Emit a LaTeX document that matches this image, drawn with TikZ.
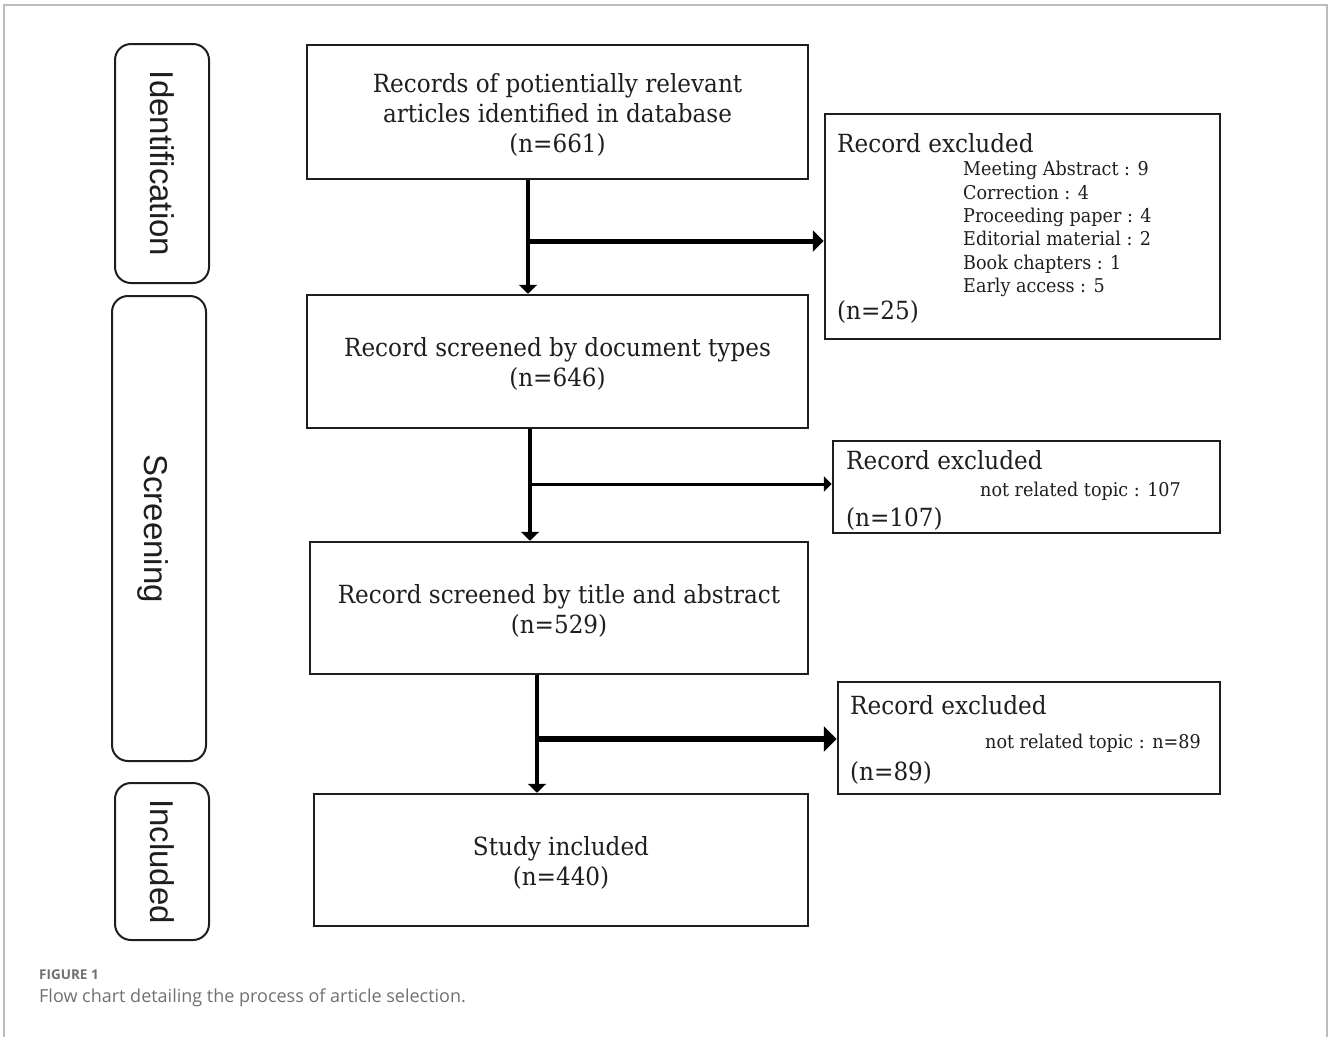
\documentclass[tikz,border=0pt]{standalone}
\usepackage{fontspec}
\setmainfont{DejaVu Serif}[FakeStretch=0.925]
\newfontfamily\sidefont{Liberation Sans}
\newfontfamily\capfont{Open Sans}
\usetikzlibrary{arrows.meta,calc}
\definecolor{ink}{HTML}{1E1E1E}
\definecolor{capgray}{HTML}{707070}
\definecolor{framegray}{HTML}{BBBBBB}
\begin{document}
\begin{tikzpicture}[x=1pt,y=-1pt,
  mainbox/.style={draw=ink, line width=2.5pt, inner sep=0pt},
  maintext/.style={inner sep=0pt, align=center, font=\fontsize{25}{30}\selectfont, text=ink},
  exbox/.style={draw=ink, line width=2.5pt, inner sep=0pt},
  sidebox/.style={draw=ink, line width=2pt, rounded corners=16pt, inner sep=0pt},
  sidetext/.style={font=\sidefont\fontsize{33}{36}\selectfont, rotate=-90, text=ink, inner sep=0pt},
  head/.style={anchor=west, inner sep=0pt, font=\fontsize{25}{30}\selectfont, text=ink},
  item/.style={anchor=west, inner sep=0pt, align=left, font=\fontsize{19}{23.3}\selectfont, text=ink},
  vline/.style={draw=black, line width=4pt, -{Triangle[length=9pt,width=18pt]}},
]
\useasboundingbox (0,0) rectangle (1328,1037);
% frame
\draw[framegray, line width=1.5pt] (4,1037) -- (4,5) -- (1327,5) -- (1327,1037);

% side boxes
\node[sidebox, minimum width=94pt, minimum height=239pt] (sid) at (162,163.5) {};
\node[sidetext] (tid) at (sid.center) {Identification};
\node[sidebox, minimum width=94pt, minimum height=465pt] (ssc) at (159,528.5) {};
\node[sidetext] (tsc) at ($(ssc.center)+(-6,0)$) {Screening};
\node[sidebox, minimum width=94pt, minimum height=157pt] (sin) at (162,861.5) {};
\node[sidetext] (tin) at (sin.center) {Included};

% main boxes
\node[mainbox, minimum width=501pt, minimum height=134pt] (b1) at (557.5,112) {};
\node[maintext] (t1) at ($(b1.center)+(0,2.5)$)
  {Records of potientially relevant\\articles identified in database\\(n=661)};
\node[mainbox, minimum width=501pt, minimum height=133pt] (b2) at (557.5,361.5) {};
\node[maintext] (t2) at ($(b2.center)+(0,2)$)
  {Record screened by document types\\(n=646)};
\node[mainbox, minimum width=498pt, minimum height=132pt] (b3) at (559,608) {};
\node[maintext] (t3) at ($(b3.center)+(0,2.5)$)
  {Record screened by title and abstract\\(n=529)};
\node[mainbox, minimum width=494pt, minimum height=132pt] (b4) at (561,860) {};
\node[maintext] (t4) at ($(b4.center)+(0,2.5)$)
  {Study included\\(n=440)};

% exclusion boxes
\node[exbox, minimum width=395pt, minimum height=225pt] (e1) at (1022.5,226.5) {};
\node[head] (e1h) at (837,143) {Record excluded};
\node[item] (e1i) at (963,229) {Meeting Abstract : 9\\Correction : 4\\Proceeding paper : 4\\Editorial material : 2\\Book chapters : 1\\Early access : 5};
\node[head] (e1n) at (837,312) {(n=25)};

\node[exbox, minimum width=387pt, minimum height=92pt] (e2) at (1026.5,487) {};
\node[head] (e2h) at (846,460) {Record excluded};
\node[item] (e2i) at (980,491) {not related topic : 107};
\node[head] (e2n) at (846,519) {(n=107)};

\node[exbox, minimum width=382pt, minimum height=112pt] (e3) at (1029,738) {};
\node[head] (e3h) at (850,705) {Record excluded};
\node[item] (e3i) at (985,743) {not related topic : n=89};
\node[head] (e3n) at (850,773) {(n=89)};

% connectors
\coordinate (j1) at (528,241);
\coordinate (j2) at (530,484);
\coordinate (j3) at (537,739);
\draw[vline] (j1 |- b1.south) -- (j1 |- b2.north);
\draw[line width=5pt, -{Triangle[length=11pt,width=21pt]}] (j1) -- (j1 -| e1.west);
\draw[vline] (j2 |- b2.south) -- (j2 |- b3.north);
\draw[line width=3pt, -{Triangle[length=8pt,width=15pt]}] (j2) -- (j2 -| e2.west);
\draw[vline, line width=4.5pt] (j3 |- b3.south) -- (j3 |- b4.north);
\draw[line width=6pt, -{Triangle[length=13pt,width=25pt]}] (j3) -- (j3 -| e3.west);

% caption
\node[anchor=west, inner sep=0pt, text=capgray, font=\capfont\bfseries\fontsize{13.5}{15}\selectfont] (cap1) at (39,975) {FIGURE 1};
\node[anchor=west, inner sep=0pt, text=capgray, font=\capfont\fontsize{18}{20}\selectfont] (cap2) at (39,998) {Flow chart detailing the process of article selection.};
\end{tikzpicture}
\end{document}
